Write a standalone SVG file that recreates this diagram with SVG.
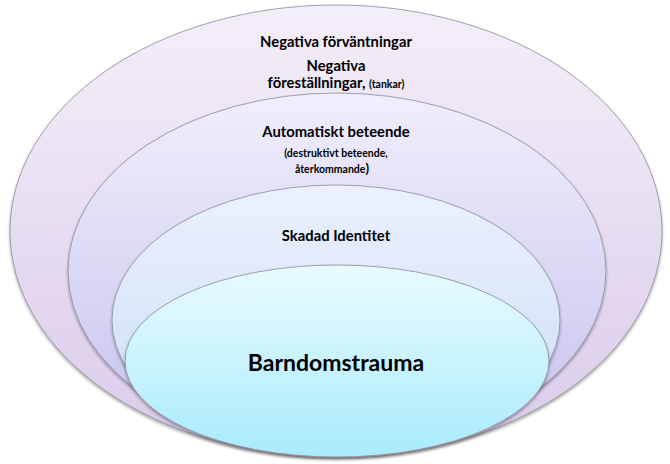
<svg xmlns="http://www.w3.org/2000/svg" width="670" height="464" viewBox="0 0 670 464">
<defs>
<linearGradient id="g1" x1="0" y1="0" x2="0" y2="1"><stop offset="0" stop-color="#f3eff9"/><stop offset="1" stop-color="#dacbea"/></linearGradient>
<linearGradient id="g2" x1="0" y1="0" x2="0" y2="1"><stop offset="0" stop-color="#f0eefb"/><stop offset="1" stop-color="#c6c2ef"/></linearGradient>
<linearGradient id="g3" x1="0" y1="0" x2="0" y2="1"><stop offset="0" stop-color="#ebf1fd"/><stop offset="1" stop-color="#c9dbf7"/></linearGradient>
<linearGradient id="g4" x1="0" y1="0" x2="0" y2="1"><stop offset="0" stop-color="#e9fbff"/><stop offset="1" stop-color="#a9ebfb"/></linearGradient>
<filter id="sh" x="-5%" y="-5%" width="110%" height="115%"><feDropShadow dx="0" dy="2" stdDeviation="1.5" flood-color="#000" flood-opacity="0.35"/></filter>
</defs>
<style>
ellipse{stroke:#8a8a9a;stroke-width:0.8;filter:url(#sh)}
text{font-family:Lato,"Open Sans","Liberation Sans",sans-serif;font-weight:bold;fill:#000;text-anchor:middle}
.m{font-size:14.8px}
.s{font-size:10.5px}
.p{font-size:13px}
.b{font-size:23px}
</style>
<g id="n1"><ellipse cx="336" cy="231" rx="326" ry="226" fill="url(#g1)"/>
<text class="m" x="336" y="47">Negativa förväntningar</text>
<text class="m" x="336" y="71">Negativa</text>
<text x="336" y="88"><tspan class="m">föreställningar, </tspan><tspan class="s">(tankar)</tspan></text>
</g>
<g id="n2"><ellipse cx="337" cy="271" rx="269" ry="178" fill="url(#g2)"/>
<text class="m" x="336" y="137">Automatiskt beteende</text>
<text class="s" x="336" y="157">(destruktivt beteende,</text>
<text x="332" y="173"><tspan class="s">återkommande</tspan><tspan class="p">)</tspan></text>
</g>
<g id="n3"><ellipse cx="336" cy="320" rx="224" ry="135" fill="url(#g3)"/>
<text class="m" x="336" y="241">Skadad Identitet</text>
</g>
<g id="n4"><ellipse cx="337" cy="361" rx="212" ry="96" fill="url(#g4)"/>
<text class="b" x="336" y="371">Barndomstrauma</text>
</g>
<g id="connectors"/>
</svg>
